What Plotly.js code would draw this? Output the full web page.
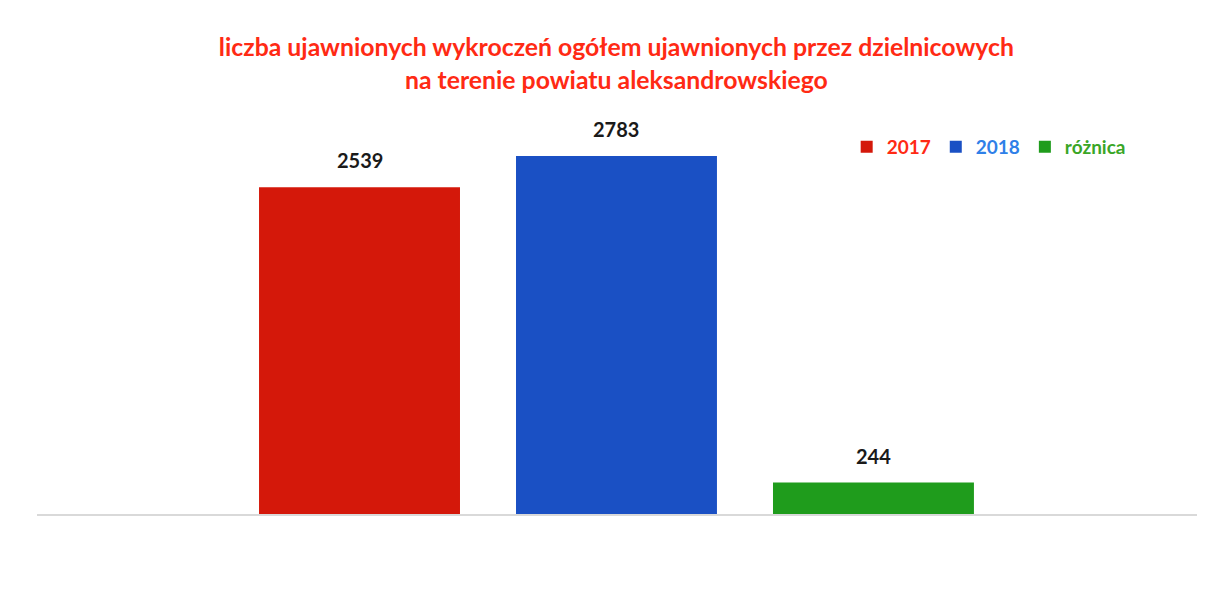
<!DOCTYPE html>
<html>
<head>
<meta charset="utf-8">
<script src="https://cdn.plot.ly/plotly-3.0.1.min.js"></script>
<style>html,body{margin:0;padding:0;background:#fff;}#chart{width:1223px;height:607px;}</style>
</head>
<body>
<div id="chart"></div>
<script>
const seriesNames = ['2017', '2018', 'różnica'];
const seriesValues = [2539, 2783, 244];
const barColors = ['#d4180a', '#1a50c4', '#1f9c1c'];
const legendTextColors = ['#ff2a14', '#2f80e8', '#3aa626'];

const traces = seriesNames.map((name, i) => ({
  type: 'bar',
  x: [name],
  y: [seriesValues[i]],
  name: '<span style="color:' + legendTextColors[i] + '">' + name + '</span>',
  marker: {color: barColors[i]},
  width: 0.782,
  hoverinfo: 'skip'
}));

const annotations = seriesNames.map((name, i) => ({
  x: i, y: seriesValues[i], xref: 'x', yref: 'y',
  text: '<b>' + seriesValues[i] + '</b>',
  showarrow: false, yshift: 27, yanchor: 'middle',
  font: {family: 'Lato, sans-serif', size: 20, color: '#1a1a1a'}
}));

const layout = {
  width: 1223, height: 607,
  paper_bgcolor: '#ffffff', plot_bgcolor: '#ffffff',
  margin: {l: 37, r: 26, t: 128, b: 93},
  barmode: 'overlay',
  title: {
    text: '<b>liczba ujawnionych wykroczeń ogółem ujawnionych przez dzielnicowych<br>na terenie powiatu aleksandrowskiego</b>',
    font: {family: 'Lato, sans-serif', size: 24.8, color: '#ff2a14'},
    x: 0.504, xanchor: 'center', y: 0.907, yanchor: 'middle'
  },
  annotations: annotations,
  xaxis: {
    type: 'category', range: [-1.255, 3.259],
    showticklabels: false, ticks: '', showgrid: false,
    showline: true, linecolor: '#d9d9d9', linewidth: 1.5, zeroline: false
  },
  yaxis: {
    range: [0, 3000], visible: false, showgrid: false, zeroline: false
  },
  showlegend: true,
  legend: {
    orientation: 'h', x: 0.698, xanchor: 'left', y: 0.951, yanchor: 'middle',
    font: {family: 'Lato, sans-serif', size: 19, weight: 'bold'},
    itemwidth: 30, traceorder: 'normal', bgcolor: 'rgba(0,0,0,0)'
  }
};

Plotly.newPlot('chart', traces, layout, {displayModeBar: false, staticPlot: true});
</script>
</body>
</html>
